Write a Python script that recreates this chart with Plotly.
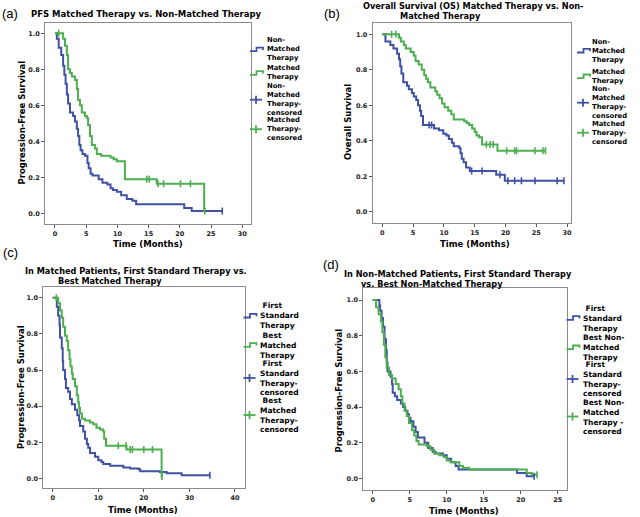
import plotly.graph_objects as go

W, H = 640, 517
BLUE = "#3f51a3"
GREEN = "#4dae4f"
FRAME = "#8a8a8a"

# ---------------- data ----------------
# (a) PFS matched vs non-matched
a_nm_t = [0, 0.3, 0.6, 1.0, 1.3, 1.5, 1.7, 1.9, 2.1, 2.4, 2.9, 3.2, 3.5, 3.7, 3.9, 4.1, 4.4, 4.8, 5.2, 5.4, 5.7, 6.0, 7.0, 7.6, 8.4, 8.9, 9.3, 9.9, 10.6, 11.5, 12.4, 13.0, 20.7, 21.9]
a_nm_s = [1.0, 0.97, 0.92, 0.88, 0.82, 0.77, 0.72, 0.66, 0.61, 0.56, 0.54, 0.51, 0.47, 0.43, 0.38, 0.35, 0.33, 0.32, 0.28, 0.25, 0.22, 0.21, 0.19, 0.17, 0.16, 0.14, 0.13, 0.12, 0.10, 0.08, 0.07, 0.05, 0.03, 0.013]
a_nm_end = 26.8
a_nm_cens = [26.8]
a_m_t = [0, 1.3, 1.6, 1.9, 2.1, 2.4, 2.7, 3.2, 3.5, 3.7, 4.0, 4.3, 4.8, 5.1, 5.3, 5.6, 5.9, 6.4, 6.7, 7.4, 8.9, 9.4, 9.9, 11.2, 16.3, 23.9]
a_m_s = [1.0, 0.97, 0.93, 0.88, 0.80, 0.78, 0.76, 0.74, 0.69, 0.63, 0.60, 0.56, 0.54, 0.53, 0.49, 0.43, 0.38, 0.36, 0.33, 0.32, 0.31, 0.30, 0.29, 0.19, 0.165, 0.013]
a_m_end = 24.0
a_m_cens = [0.6, 14.7, 15.1, 16.5, 17.4, 20.1, 21.7, 24.0]

# (b) OS matched vs non-matched
b_nm_t = [0, 0.5, 1.3, 1.8, 2.4, 2.7, 2.9, 3.1, 3.4, 4.0, 4.3, 4.8, 5.1, 5.5, 5.8, 6.1, 6.3, 6.6, 8.4, 9.2, 9.9, 10.4, 10.8, 11.3, 11.6, 12.5, 12.7, 12.9, 13.2, 13.6, 14.2, 18.5, 19.9]
b_nm_s = [1.0, 0.96, 0.94, 0.92, 0.89, 0.86, 0.82, 0.78, 0.73, 0.71, 0.69, 0.67, 0.65, 0.63, 0.60, 0.57, 0.54, 0.49, 0.47, 0.46, 0.44, 0.43, 0.41, 0.39, 0.37, 0.36, 0.33, 0.30, 0.28, 0.25, 0.23, 0.21, 0.175]
b_nm_end = 29.5
b_nm_cens = [7.6, 8.0, 14.5, 16.2, 19.1, 20.4, 21.5, 22.6, 24.8, 28.4, 29.5]
b_m_t = [0, 2.7, 3.0, 3.5, 3.8, 4.6, 5.1, 5.4, 5.9, 6.4, 6.8, 7.1, 7.4, 7.8, 8.6, 8.9, 9.3, 9.7, 10.1, 10.7, 11.2, 11.6, 13.3, 13.7, 14.1, 14.6, 15.0, 15.3, 15.7, 16.2, 18.7]
b_m_s = [1.0, 0.98, 0.96, 0.94, 0.92, 0.90, 0.88, 0.85, 0.83, 0.80, 0.77, 0.75, 0.73, 0.70, 0.68, 0.66, 0.64, 0.61, 0.59, 0.57, 0.55, 0.52, 0.51, 0.50, 0.49, 0.47, 0.45, 0.43, 0.42, 0.38, 0.345]
b_m_end = 26.5
b_m_cens = [1.5, 2.2, 16.9, 17.5, 18.0, 20.2, 21.5, 21.8, 24.8, 26.1, 26.5]

# (c) matched patients: first standard vs best matched
c_fs_t = [0, 0.9, 1.2, 1.5, 1.6, 2.0, 2.2, 2.3, 2.7, 2.9, 3.4, 3.8, 4.2, 4.9, 5.4, 5.8, 6.0, 6.7, 7.1, 7.5, 7.8, 8.2, 9.3, 10.0, 10.7, 11.1, 12.6, 15.5, 17.0, 18.8, 19.2, 23.5, 25.0, 28.3]
c_fs_s = [1.0, 0.95, 0.90, 0.85, 0.78, 0.72, 0.65, 0.60, 0.55, 0.50, 0.48, 0.44, 0.41, 0.38, 0.35, 0.32, 0.29, 0.26, 0.22, 0.19, 0.17, 0.14, 0.12, 0.10, 0.09, 0.08, 0.07, 0.06, 0.055, 0.05, 0.04, 0.035, 0.028, 0.017]
c_fs_end = 34.5
c_fs_cens = [34.5]
c_bm_t = [0, 1.2, 1.6, 2.0, 2.3, 2.7, 3.1, 3.4, 3.7, 3.9, 4.2, 4.4, 4.9, 5.3, 5.6, 5.8, 6.0, 6.4, 7.1, 8.2, 8.9, 9.6, 10.4, 11.1, 11.3, 11.7, 16.2, 23.9]
c_bm_s = [1.0, 0.97, 0.93, 0.89, 0.84, 0.79, 0.76, 0.71, 0.66, 0.62, 0.58, 0.55, 0.51, 0.46, 0.42, 0.39, 0.36, 0.33, 0.32, 0.31, 0.30, 0.28, 0.27, 0.26, 0.22, 0.18, 0.16, 0.01]
c_bm_end = 24.0
c_bm_cens = [0.8, 14.4, 16.1, 17.0, 17.5, 20.0, 21.9, 24.0]

# (d) non-matched patients: first standard vs best non-matched
d_fs_t = [0, 0.9, 1.0, 1.2, 1.4, 1.6, 1.8, 1.9, 2.0, 2.4, 2.6, 2.7, 3.0, 3.3, 3.8, 4.1, 4.4, 4.7, 4.9, 5.1, 5.5, 5.8, 6.1, 7.0, 7.5, 8.1, 8.5, 9.5, 10.0, 10.6, 11.2, 11.6, 19.5, 20.8]
d_fs_s = [1.0, 0.97, 0.94, 0.90, 0.85, 0.78, 0.72, 0.65, 0.60, 0.57, 0.53, 0.48, 0.46, 0.44, 0.42, 0.40, 0.38, 0.36, 0.34, 0.32, 0.29, 0.26, 0.23, 0.20, 0.17, 0.15, 0.14, 0.13, 0.11, 0.09, 0.07, 0.05, 0.03, 0.012]
d_fs_end = 21.8
d_fs_cens = [21.8]
d_bn_t = [0, 0.45, 0.8, 1.1, 1.3, 1.5, 1.7, 1.9, 2.2, 2.6, 3.1, 3.5, 3.8, 4.0, 4.3, 4.6, 4.9, 5.3, 5.6, 5.9, 6.2, 7.3, 7.8, 8.3, 9.0, 9.6, 10.0, 10.5, 11.7, 12.2, 13.0, 20.8, 21.5]
d_bn_s = [1.0, 0.96, 0.92, 0.88, 0.82, 0.75, 0.68, 0.62, 0.58, 0.56, 0.53, 0.50, 0.46, 0.42, 0.38, 0.35, 0.31, 0.27, 0.24, 0.21, 0.19, 0.18, 0.16, 0.14, 0.13, 0.12, 0.10, 0.09, 0.07, 0.06, 0.05, 0.03, 0.02]
d_bn_end = 22.2
d_bn_cens = [22.2]

# text
titles = {
    "a": ["PFS Matched Therapy vs. Non-Matched Therapy"],
    "b": ["Overall Survival (OS) Matched Therapy vs. Non-", "Matched Therapy"],
    "c": ["In Matched Patients, First Standard Therapy vs.", "Best Matched Therapy"],
    "d": ["In Non-Matched Patients, First Standard Therapy", "vs. Best Non-Matched Therapy"],
}
ytitles = {"a": "Progression-Free Survival", "b": "Overall Survival",
           "c": "Progression-Free Survival", "d": "Progression-Free Survival"}
xtitle = "Time (Months)"
legend_ab = [["Non-", "Matched", "Therapy"], ["Matched", "Therapy"],
             ["Non-", "Matched", "Therapy-", "censored"], ["Matched", "Therapy-", "censored"]]
legend_c = [["\u00a0First", "Standard", "Therapy"], ["\u00a0Best", "Matched", "Therapy"],
            ["\u00a0First", "Standard", "Therapy-", "censored"], ["\u00a0Best", "Matched", "Therapy-", "censored"]]
legend_d = [["\u00a0First", "Standard", "Therapy"], ["Best Non-", "Matched", "Therapy"],
            ["\u00a0First", "Standard", "Therapy-", "censored"], ["Best Non-", "Matched", "Therapy -", "censored"]]


def surv_at(t, s, x):
    v = s[0]
    for ti, si in zip(t, s):
        if ti <= x:
            v = si
    return v


fig = go.Figure()

panels = [
    ("a", "x", "y", (a_nm_t, a_nm_s, a_nm_end, a_nm_cens), (a_m_t, a_m_s, a_m_end, a_m_cens)),
    ("b", "x2", "y2", (b_nm_t, b_nm_s, b_nm_end, b_nm_cens), (b_m_t, b_m_s, b_m_end, b_m_cens)),
    ("c", "x3", "y3", (c_fs_t, c_fs_s, c_fs_end, c_fs_cens), (c_bm_t, c_bm_s, c_bm_end, c_bm_cens)),
    ("d", "x4", "y4", (d_fs_t, d_fs_s, d_fs_end, d_fs_cens), (d_bn_t, d_bn_s, d_bn_end, d_bn_cens)),
]

for key, xa, ya, s1, s2 in panels:
    for (t, s, end, cens), col in ((s1, BLUE), (s2, GREEN)):
        fig.add_trace(go.Scatter(x=list(t) + [end], y=list(s) + [s[-1]], mode="lines",
                                 line=dict(color=col, width=2, shape="hv"),
                                 xaxis=xa, yaxis=ya, showlegend=False, hoverinfo="skip"))
    for (t, s, end, cens), col in ((s1, BLUE), (s2, GREEN)):
        fig.add_trace(go.Scatter(x=cens, y=[surv_at(t, s, c) for c in cens], mode="markers",
                                 marker=dict(symbol="line-ns", size=5, color=col,
                                             line=dict(color=col, width=1.6)),
                                 xaxis=xa, yaxis=ya, showlegend=False, hoverinfo="skip"))

# ---------------- layout ----------------
def px(x):
    return x / W


def py(y):
    return 1 - y / H


TICKFONT = dict(family="DejaVu Sans", size=6.5, color="#222", weight="bold")


def xax(x0, x1, rng, dtick, anchor):
    return dict(domain=[px(x0), px(x1)], range=rng, dtick=dtick, tick0=0, showgrid=False,
                zeroline=False, showline=True, mirror=True, linecolor=FRAME, linewidth=1,
                ticks="outside", ticklen=3, tickcolor="#555", tickwidth=1, tickfont=TICKFONT,
                anchor=anchor)


def yax(y0, y1, rng, anchor):
    return dict(domain=[py(y1), py(y0)], range=rng, dtick=0.2, tick0=0, tickformat=".1f",
                showgrid=False, zeroline=False, showline=True, mirror=True, linecolor=FRAME,
                linewidth=1, ticks="outside", ticklen=3, tickcolor="#555", tickwidth=1,
                tickfont=TICKFONT, anchor=anchor)


fig.update_layout(
    width=W, height=H, margin=dict(l=0, r=0, t=0, b=0),
    paper_bgcolor="white", plot_bgcolor="white", showlegend=False,
    xaxis=xax(45, 251, [-1.6, 31.4], 5, "y"),
    yaxis=yax(23, 224, [-0.059, 1.057], "x"),
    xaxis2=xax(372.7, 570.7, [-1.57, 30.6], 5, "y2"),
    yaxis2=yax(23.3, 223.3, [-0.064, 1.062], "x2"),
    xaxis3=xax(43.3, 245, [-2.06, 42.2], 10, "y3"),
    yaxis3=yax(287.3, 488.3, [-0.055, 1.058], "x3"),
    xaxis4=xax(363.3, 566.7, [-1.27, 26.2], 5, "y4"),
    yaxis4=yax(288.3, 490, [-0.065, 1.066], "x4"),
)

ann = []
shapes = []


def txt(x, y, s, size, anchor="center", bold=True, angle=0, family="DejaVu Sans", align="center"):
    ann.append(dict(x=px(x), y=py(y), xref="paper", yref="paper",
                    text=f"<b>{s}</b>" if bold else s, showarrow=False,
                    xanchor=anchor, yanchor="middle", textangle=angle, align=align,
                    borderpad=0,
                    font=dict(family=family, size=size, color="black")))


# panel labels
for lab, (x, y) in {"(a)": (10, 13), "(b)": (332, 13), "(c)": (10, 253), "(d)": (331, 264)}.items():
    txt(x, y, lab, 13, bold=False, family="Liberation Sans")

# titles
title_pos = {"a": [(146, 14)], "b": [(473, 5.6), (440, 15.6)],
             "c": [(136, 270.8), (110, 280.8)], "d": [(458, 273.6), (431.5, 283.6)]}
for k, lines in titles.items():
    for line, (x, y) in zip(lines, title_pos[k]):
        txt(x, y, line, 8.5 if k == "a" else 8.2)

# axis titles
for k, (x, y) in {"a": (21, 122.5), "b": (348, 122), "c": (20.5, 387.5), "d": (338.5, 391)}.items():
    txt(x, y, ytitles[k], 8.5, angle=-90)
for x, y in [(148, 244), (475, 244), (143, 510), (464, 510.5)]:
    txt(x, y, xtitle, 8.5)

# legends: (items, glyph x, text x, item centre y, font size)
legend_specs = [
    (legend_ab, 250, 266, [49.4, 73.0, 99.7, 129.2], 6.8),
    (legend_ab, 577, 591, [50.7, 76.3, 102.7, 132.7], 6.8),
    (legend_c, 243.5, 259, [315.7, 345.0, 378.0, 415.0], 7.5),
    (legend_d, 566.5, 581.5, [318.0, 347.3, 379.0, 416.5], 7.5),
]
for items, gx, tx, centres, fs in legend_specs:
    for i, (lines, cy) in enumerate(zip(items, centres)):
        txt(tx, cy, "<br>".join(lines), fs, anchor="left", align="left")
        col = BLUE if i % 2 == 0 else GREEN
        if i < 2:
            path = (f"M {px(gx)},{py(cy + 1.8)} H {px(gx + 6.5)} V {py(cy - 1.8)} "
                    f"H {px(gx + 13)} V {py(cy + 0.5)}")
            shapes.append(dict(type="path", xref="paper", yref="paper", path=path,
                               line=dict(color=col, width=1.8)))
        else:
            cx = gx + 6
            shapes.append(dict(type="line", xref="paper", yref="paper", x0=px(cx - 6), x1=px(cx + 6),
                               y0=py(cy), y1=py(cy), line=dict(color=col, width=1.8)))
            shapes.append(dict(type="line", xref="paper", yref="paper", x0=px(cx), x1=px(cx),
                               y0=py(cy - 4), y1=py(cy + 4), line=dict(color=col, width=1.8)))

fig.update_layout(annotations=ann, shapes=shapes)
fig.write_html("out.html", config={"displayModeBar": False},
               post_script="document.body.style.margin='0';")
